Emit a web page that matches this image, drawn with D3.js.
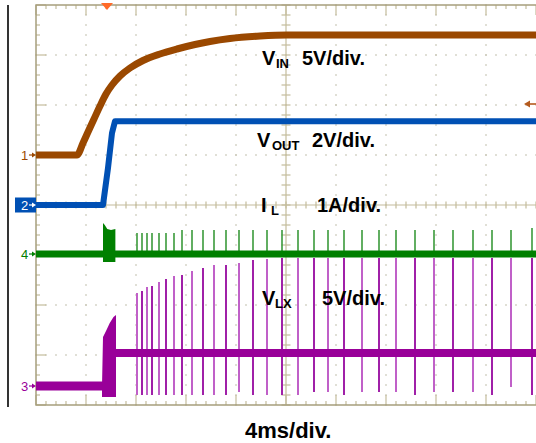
<!DOCTYPE html>
<html><head><meta charset="utf-8">
<script src="https://cdn.jsdelivr.net/npm/d3@7"></script>
<style>html,body{margin:0;padding:0;background:#fff;}svg{display:block;}</style>
</head><body>
<script>
// ---- data (time in ms, values in channel units) ----
const timeDomain = [0, 40];           // 10 divisions x 4 ms/div
const divDomain = [-4, 4];            // 8 vertical divisions

// Channel 1: VIN (5 V/div)
const vinTime  = [0, 3.28, 3.76, 4.16, 4.64, 5.12, 5.6, 6.08, 6.72, 7.52, 8.56, 9.92, 11.28, 12.72, 13.92, 15.52, 17.92, 20.08, 40];
const vinVolts = [0, 0, 1.2, 2.3, 3.6, 4.9, 6.1, 7.0, 7.9, 8.7, 9.45, 10.1, 10.6, 11.05, 11.35, 11.65, 11.9, 12.0, 12.0];

// Channel 2: VOUT (2 V/div)
const voutTime  = [0, 5.36, 5.76, 6.08, 6.32, 40];
const voutVolts = [0, 0, 1.48, 2.88, 3.35, 3.35];

// Channel 4: IL (1 A/div)
const ilBaseTime = [0, 40];
const ilBaseAmps = [0, 0];
const ilBurstTime = [5.36, 5.5, 5.7, 6.0, 6.35];
const ilBurstHigh = [0.62, 0.58, 0.5, 0.48, 0.5];
const ilBurstLow  = [-0.16, -0.16, -0.16, -0.16, -0.16];

// Channel 3: VLX (5 V/div)
const vlxPreTime  = [0, 5.36];
const vlxPreVolts = [0, 0];
const vlxBurstTime = [5.28, 5.36, 5.6, 5.9, 6.2, 6.4];
const vlxBurstHigh = [0, 4.9, 5.5, 6.3, 6.9, 7.1];
const vlxBurstLow  = [-1.1, -1.1, -1.1, -1.1, -1.1, -1.1];
const vlxPostTime  = [6.4, 40];
const vlxPostVolts = [3.3, 3.3];

// switching pulses (PFM)
const pulseTime = [8.08, 8.48, 8.88, 9.28, 9.84, 10.4, 11.04, 11.68, 12.48, 13.36, 14.24, 15.2, 16.24, 17.36, 18.48, 19.68, 20.96, 22.24, 23.36, 24.64, 26.08, 27.44, 28.8, 30.32, 31.84, 33.36, 34.96, 36.48, 38.0, 39.68];
const vlxPulseTop = [9.3, 9.5, 9.9, 10.0, 10.4, 10.7, 11.0, 11.1, 11.5, 11.8, 12.1, 12.1, 12.3, 12.6, 12.7, 12.8, 12.8, 12.8, 12.8, 12.8, 12.8, 12.8, 12.8, 12.8, 12.8, 12.8, 12.8, 12.8, 12.8, 12.8];
const vlxPulseBottom = [-0.9, -0.9, -0.9, -0.9, -0.9, -0.9, -0.9, -0.9, -0.9, -0.9, -0.9, -0.9, -0.6, -0.9, -0.9, -0.9, -0.9, -0.6, -0.6, -0.9, -0.6, -0.6, -0.6, -0.9, -0.6, -0.6, -0.6, -0.9, -0.1, -0.9];
const ilPulseTop = [0.42, 0.42, 0.42, 0.42, 0.42, 0.42, 0.42, 0.48, 0.48, 0.48, 0.48, 0.48, 0.48, 0.48, 0.48, 0.48, 0.48, 0.48, 0.48, 0.48, 0.48, 0.48, 0.48, 0.48, 0.48, 0.48, 0.48, 0.48, 0.48, 0.52];

// trigger
const triggerTime = 5.68;
const triggerLevel = 5.1;   // volts on channel 1

// labels
const traceLabels = [
  {main: "V", sub: "IN",  scale: "5V/div."},
  {main: "V", sub: "OUT", scale: "2V/div."},
  {main: "I", sub: "L",   scale: "1A/div."},
  {main: "V", sub: "LX",  scale: "5V/div."}
];
const timebaseLabel = "4ms/div.";
const channelNumbers = ["1", "2", "4", "3"];

// ---- chart ----
const W = 536, H = 443;
const svg = d3.select("body").append("svg").attr("width", W).attr("height", H);
const x = d3.scaleLinear().domain(timeDomain).range([36, 536]);
const yDiv = d3.scaleLinear().domain(divDomain).range([405, 5]);

const channels = {
  vin:  {perDiv: 5, ground: 1.0,   color: "#9a4800"},
  vout: {perDiv: 2, ground: 0.0,   color: "#0050b4"},
  il:   {perDiv: 1, ground: -0.98, color: "#008000"},
  vlx:  {perDiv: 5, ground: -3.62, color: "#990099"}
};
const yOf = ch => v => yDiv(ch.ground + v / ch.perDiv);

// graticule
const grid = svg.append("g");
const frameColor = "#a69e7c", tickColor = "#c4bc9c", dotColor = "#c8c6b6";
const minorT = d3.range(0, 40.001, 0.8);
const minorD = d3.range(-4, 4.001, 0.2);
d3.range(1, 10).filter(i => i !== 5).forEach(i => {
  const t = i * 4;
  minorD.forEach(d => grid.append("rect").attr("x", x(t) - 0.75).attr("y", yDiv(d) - 0.75).attr("width", 1.5).attr("height", 1.5).attr("fill", dotColor));
});
d3.range(-3, 4).filter(j => j !== 0).forEach(j => {
  minorT.forEach(t => grid.append("rect").attr("x", x(t) - 0.75).attr("y", yDiv(j) - 0.75).attr("width", 1.5).attr("height", 1.5).attr("fill", dotColor));
});
grid.append("line").attr("x1", x(0)).attr("x2", x(40)).attr("y1", yDiv(0)).attr("y2", yDiv(0)).attr("stroke", tickColor).attr("stroke-width", 1.2);
grid.append("line").attr("x1", x(20)).attr("x2", x(20)).attr("y1", yDiv(-4)).attr("y2", yDiv(4)).attr("stroke", tickColor).attr("stroke-width", 1.2);
minorT.forEach(t => grid.append("line").attr("x1", x(t)).attr("x2", x(t)).attr("y1", yDiv(0) - 3.5).attr("y2", yDiv(0) + 3.5).attr("stroke", tickColor).attr("stroke-width", 1.2));
minorD.forEach(d => grid.append("line").attr("x1", x(20) - 4.5).attr("x2", x(20) + 4.5).attr("y1", yDiv(d)).attr("y2", yDiv(d)).attr("stroke", tickColor).attr("stroke-width", 1.2));
minorT.forEach((t, i) => {
  const len = (i % 5 === 0) ? 10 : 4;
  grid.append("line").attr("x1", x(t)).attr("x2", x(t)).attr("y1", yDiv(4)).attr("y2", yDiv(4) + len).attr("stroke", tickColor).attr("stroke-width", 1.2);
  grid.append("line").attr("x1", x(t)).attr("x2", x(t)).attr("y1", yDiv(-4)).attr("y2", yDiv(-4) - len).attr("stroke", tickColor).attr("stroke-width", 1.2);
});
minorD.forEach((d, i) => {
  const len = (i % 5 === 0) ? 10 : 4;
  grid.append("line").attr("x1", x(0)).attr("x2", x(0) + len).attr("y1", yDiv(d)).attr("y2", yDiv(d)).attr("stroke", tickColor).attr("stroke-width", 1.2);
});
grid.append("path").attr("d", `M${x(40)},${yDiv(4)}H${x(0)}V${yDiv(-4)}H${x(40)}`).attr("fill", "none").attr("stroke", frameColor).attr("stroke-width", 1.5);
svg.append("line").attr("x1", 8).attr("x2", 8).attr("y1", 5).attr("y2", 407).attr("stroke", "#000").attr("stroke-width", 1.6);

const lineGen = (ch) => d3.line().x(d => x(d[0])).y(d => yOf(ch)(d[1]));
const zip = (a, b) => a.map((v, i) => [v, b[i]]);
const traces = svg.append("g");

// VLX
const vlx = channels.vlx, yVlx = yOf(vlx);
traces.append("g").selectAll("line").data(d3.range(pulseTime.length)).join("line")
  .attr("x1", i => x(pulseTime[i])).attr("x2", i => x(pulseTime[i]))
  .attr("y1", i => yVlx(vlxPulseTop[i])).attr("y2", i => yVlx(vlxPulseBottom[i]))
  .attr("stroke", (d, i) => i % 2 ? "#a020a8" : "#c060c8").attr("stroke-width", 2);
traces.append("path").attr("d", lineGen(vlx)(zip(vlxPreTime, vlxPreVolts))).attr("fill", "none").attr("stroke", vlx.color).attr("stroke-width", 9);
traces.append("path").attr("d", lineGen(vlx)(zip(vlxPostTime, vlxPostVolts))).attr("fill", "none").attr("stroke", vlx.color).attr("stroke-width", 8);
traces.append("path").attr("d", d3.area().x(i => x(vlxBurstTime[i])).y0(i => yVlx(vlxBurstLow[i])).y1(i => yVlx(vlxBurstHigh[i]))(d3.range(vlxBurstTime.length)))
  .attr("fill", vlx.color);

// IL
const il = channels.il, yIl = yOf(il);
traces.append("g").selectAll("line").data(d3.range(pulseTime.length)).join("line")
  .attr("x1", i => x(pulseTime[i])).attr("x2", i => x(pulseTime[i]))
  .attr("y1", i => yIl(ilPulseTop[i])).attr("y2", yIl(0))
  .attr("stroke", "#3a9a3a").attr("stroke-width", 1.6);
traces.append("path").attr("d", lineGen(il)(zip(ilBaseTime, ilBaseAmps))).attr("fill", "none").attr("stroke", il.color).attr("stroke-width", 7);
traces.append("path").attr("d", d3.area().x(i => x(ilBurstTime[i])).y0(i => yIl(ilBurstLow[i])).y1(i => yIl(ilBurstHigh[i]))(d3.range(ilBurstTime.length)))
  .attr("fill", il.color);

// VOUT
const vout = channels.vout;
traces.append("path").attr("d", lineGen(vout)(zip(voutTime, voutVolts))).attr("fill", "none").attr("stroke", vout.color).attr("stroke-width", 6).attr("stroke-linejoin", "round");

// VIN
const vin = channels.vin;
traces.append("path").attr("d", lineGen(vin).curve(d3.curveMonotoneX)(zip(vinTime, vinVolts))).attr("fill", "none").attr("stroke", vin.color).attr("stroke-width", 7);

// trigger markers
svg.append("path").attr("d", `M${x(triggerTime) - 6},3L${x(triggerTime) + 6},3L${x(triggerTime)},10Z`).attr("fill", "#ff6a28");
const ty = yOf(vin)(triggerLevel);
svg.append("line").attr("x1", 529).attr("x2", 536).attr("y1", ty).attr("y2", ty).attr("stroke", "#b45a1e").attr("stroke-width", 1.6);
svg.append("path").attr("d", `M524,${ty}L530,${ty - 3.5}L530,${ty + 3.5}Z`).attr("fill", "#b45a1e");

// channel ground markers
const markerFont = "Liberation Sans, Arial, sans-serif";
const chList = [vin, vout, il, vlx];
chList.forEach((ch, k) => {
  const gy = yDiv(ch.ground);
  const g = svg.append("g");
  let fg = ch.color;
  if (k === 1) {
    g.append("rect").attr("x", 15).attr("y", gy - 7.5).attr("width", 21).attr("height", 15).attr("fill", ch.color);
    fg = "#fff";
  }
  g.append("text").attr("x", 21).attr("y", gy + 5).attr("font-family", markerFont).attr("font-size", 13).attr("fill", fg).text(channelNumbers[k]);
  g.append("line").attr("x1", 29).attr("x2", 33).attr("y1", gy).attr("y2", gy).attr("stroke", fg).attr("stroke-width", 1.2);
  g.append("path").attr("d", `M36,${gy}L32,${gy - 2.5}L32,${gy + 2.5}Z`).attr("fill", fg);
});

// labels
const labelFont = "Liberation Sans, Arial, sans-serif";
const labelPos = [
  {x: 262, y: 65, sx: 276, sscale: 302},
  {x: 257, y: 147, sx: 272, sscale: 312},
  {x: 261, y: 212, sx: 271, sscale: 317},
  {x: 262, y: 305, sx: 275, sscale: 322}
];
traceLabels.forEach((lab, k) => {
  const p = labelPos[k];
  const t = svg.append("text").attr("font-family", labelFont).attr("font-weight", "bold").attr("fill", "#000");
  t.append("tspan").attr("x", p.x).attr("y", p.y).attr("font-size", 20).text(lab.main);
  t.append("tspan").attr("x", p.sx).attr("y", p.y + 3).attr("font-size", 13).text(lab.sub);
  t.append("tspan").attr("x", p.sscale).attr("y", p.y).attr("font-size", 20).text(lab.scale);
});
svg.append("text").attr("x", 245).attr("y", 438).attr("font-family", labelFont).attr("font-weight", "bold").attr("font-size", 22).attr("fill", "#000").text(timebaseLabel);
</script>
</body></html>
